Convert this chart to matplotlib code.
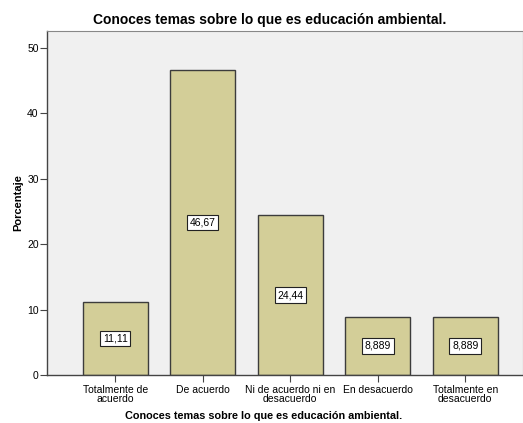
import numpy as np
from matplotlib import pyplot as plt

categories = ["Totalmente de\nacuerdo", "De acuerdo", "Ni de acuerdo ni en\ndesacuerdo",
              "En desacuerdo", "Totalmente en\ndesacuerdo"]
percentages = [11.11, 46.67, 24.44, 8.889, 8.889]
value_labels = ["11,11", "46,67", "24,44", "8,889", "8,889"]
y_ticks = [0, 10, 20, 30, 40, 50]

plt.rcParams['font.family'] = ['Liberation Sans', 'DejaVu Sans']

fig = plt.figure(figsize=(5.23, 4.23), dpi=100)
ax = fig.add_axes([0.0899, 0.1135, 0.9101, 0.8132])
ax.set_facecolor("#F0F0F0")

x = np.arange(len(categories))
ax.bar(x, percentages, width=0.745, color="#D3CE98", edgecolor="#3C3C3C", linewidth=1.0, zorder=2)

for xi, v, lab in zip(x, percentages, value_labels):
    ax.text(xi, v / 2, lab, ha="center", va="center", fontsize=7.5, zorder=3,
            bbox=dict(boxstyle="square,pad=0.25", facecolor="white", edgecolor="#222222", linewidth=0.8))

ax.set_xlim(-0.78, 4.66)
ax.set_ylim(0, 52.6)
ax.set_yticks(y_ticks)
ax.set_xticks(x)
ax.set_xticklabels(categories, fontsize=7.5, linespacing=0.9)
ax.tick_params(axis="y", labelsize=7.5, length=5, width=0.8, color="#444444", pad=1)
ax.tick_params(axis="x", length=5, width=0.8, color="#444444", pad=2)

for side in ["top", "right"]:
    ax.spines[side].set_color("#888888")
    ax.spines[side].set_linewidth(0.8)
for side in ["left", "bottom"]:
    ax.spines[side].set_color("#444444")
    ax.spines[side].set_linewidth(1.0)

ax.set_ylabel("Porcentaje", fontsize=8, fontweight="bold", labelpad=3)
ax.set_xlabel("Conoces temas sobre lo que es educación ambiental.", fontsize=7.8, fontweight="bold", labelpad=5, x=0.454)
ax.set_title("Conoces temas sobre lo que es educación ambiental.", fontsize=10, fontweight="bold", pad=5, x=0.468)

fig.savefig("out.png", dpi=100)
